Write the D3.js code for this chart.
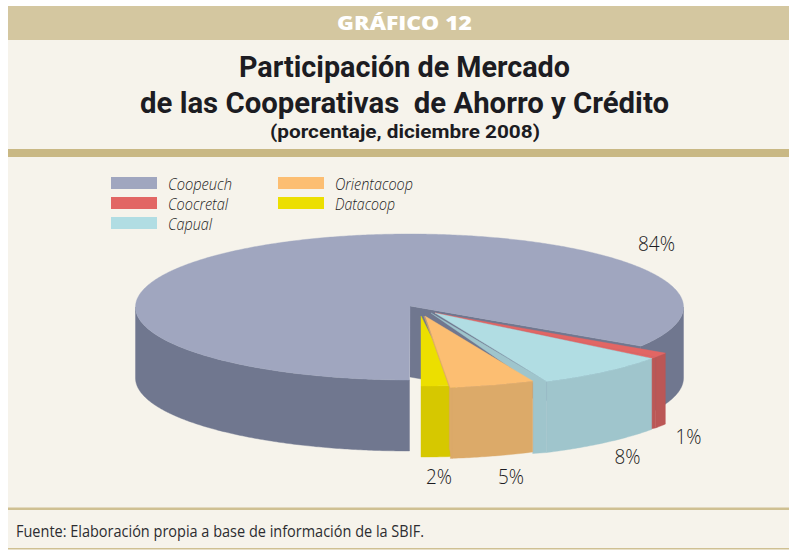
<!DOCTYPE html>
<html><head><meta charset="utf-8">
<script src="https://cdn.jsdelivr.net/npm/d3@7"></script>
<style>html,body{margin:0;padding:0;background:#fff}svg{display:block}text{font-family:"Open Sans",sans-serif}.h{font-family:Roboto,sans-serif}</style>
</head><body><svg id="c" width="789" height="550"></svg>
<script>
const categories = ["Coopeuch","Coocretal","Capual","Orientacoop","Datacoop"];
const values = [84,1,8,5,2];
const valueLabels = ["84%","1%","8%","5%","2%"];
const topColors = ["#a0a6bf","#e26664","#b1dde3","#fcbe72","#ecdf00"];
const wallColors = ["#70778f","#bb5756","#9fc5cc","#dcaa69","#d6c800"];

// layout
const W=789,H=550,RX=274,RY=73,DEPTH=71;
const centers=[[409.5,307],[434,314],[430,315.5],[416,315],[421,313]];
const apexes=[[410,306],[435,313],[435,313],[425,316],[421,316]];
const labelPos=[[656.5,251],[688.5,444],[627.5,464],[511,484],[439,484]];
const legendPos=[[111,177],[111,197],[111,217],[278,177],[278,197]];
const legendWidths=[64,60,44,78,60];

const svg=d3.select("#c");
svg.append("rect").attr("x",8).attr("y",6).attr("width",W-8).attr("height",543).attr("fill","#f6f3eb");
svg.append("rect").attr("x",8).attr("y",6).attr("width",W-8).attr("height",34).attr("fill","#d4c7a0");
svg.append("rect").attr("x",8).attr("y",149).attr("width",W-8).attr("height",8).attr("fill","#c9b884");
svg.append("rect").attr("x",8).attr("y",507.5).attr("width",W-8).attr("height",2.5).attr("fill","#cfc092");
svg.append("rect").attr("x",8).attr("y",548).attr("width",W-8).attr("height",1.5).attr("fill","#cfc092");

function fit(sel,len){return sel.attr("textLength",len).attr("lengthAdjust","spacingAndGlyphs");}
const t=(txt,x,y,size,weight,fill,len,cls)=>fit(svg.append("text").attr("class",cls||null).attr("x",x).attr("y",y)
  .attr("font-size",size).attr("font-weight",weight).attr("fill",fill)
  .style("white-space","pre").text(txt),len);

t("GRÁFICO 12",337,30,20,800,"#ffffff",135);
t("Participación de Mercado",239,77,29,700,"#1c1c22",331,"h");
t("de las Cooperativas  de Ahorro y Crédito",140,113,29,700,"#1c1c22",529,"h");
t("(porcentaje, diciembre 2008)",270,138,19,700,"#1c1c22",270,"h");
t("Fuente: Elaboración propia a base de información de la SBIF.",16,537,16,400,"#2c2c30",408);

const legend=svg.append("g").selectAll("g").data(categories).join("g")
  .attr("transform",(d,i)=>`translate(${legendPos[i]})`);
legend.append("rect").attr("width",46).attr("height",12).attr("fill",(d,i)=>topColors[i]);
legend.append("text").attr("x",57).attr("y",13).attr("font-size",16).attr("font-style","italic").attr("font-weight",300)
  .attr("fill","#1c1c22").text(d=>d).attr("textLength",(d,i)=>legendWidths[i]).attr("lengthAdjust","spacingAndGlyphs");

// pie geometry: starts at 6 o'clock, runs clockwise
const arcs=d3.pie().sort(null).startAngle(Math.PI).endAngle(3*Math.PI)(values);
const px=(c,a)=>c[0]+RX*Math.sin(a), py=(c,a)=>c[1]-RY*Math.cos(a);
const line=d3.line();
const samples=(a0,a1)=>{const n=Math.max(2,Math.ceil(Math.abs(a1-a0)/0.01));return d3.range(n+1).map(k=>a0+(a1-a0)*k/n);};
const arcPts=(c,a0,a1,dy=0)=>samples(a0,a1).map(a=>[px(c,a),py(c,a)+dy]);

function topPath(i){const d=arcs[i],c=centers[i];
  return line([apexes[i],...arcPts(c,d.startAngle,d.endAngle)])+"Z";}
function wallPaths(i){const d=arcs[i],c=centers[i],out=[];
  [[Math.PI/2,1.5*Math.PI],[2.5*Math.PI,3.5*Math.PI]].forEach(([lo,hi])=>{
    const a0=Math.max(lo,d.startAngle),a1=Math.min(hi,d.endAngle);
    if(a1>a0) out.push(line([...arcPts(c,a0,a1),...arcPts(c,a1,a0,DEPTH)])+"Z");
  });
  return out;}

const g=svg.append("g");
const draw=(p,f)=>g.append("path").attr("d",p).attr("fill",f).attr("stroke",f).attr("stroke-width",0.4);

wallPaths(0).forEach(p=>draw(p,wallColors[0]));
{const e=arcs[0].endAngle,c=centers[0],a=apexes[0];
 draw(line([a,[px(c,e),py(c,e)],[px(c,e),py(c,e)+DEPTH],[a[0],a[1]+DEPTH]])+"Z",wallColors[0]);}
draw(topPath(0),topColors[0]);

[1,2,4,3].forEach(i=>{
  const d=arcs[i],c=centers[i];
  const ex=px(c,d.endAngle),ey=py(c,d.endAngle);
  if(i===1){
    draw(line([[ex-5,ey+1],[ex,ey],[ex,ey+DEPTH],[ex-5,ey+DEPTH+1]])+"Z",wallColors[i]);
  }
  if(i===2){
    draw(line([[431,313],[ex-14,ey+1.5],[ex-14,ey+DEPTH+1],[ex,ey+DEPTH],[ex,ey]])+"Z",wallColors[i]);
  }
  wallPaths(i).forEach(p=>draw(p,wallColors[i]));
  if(i===3){
    draw(line([[apexes[i][0]-1,apexes[i][1]],[ex-1,ey],[ex-1,ey+DEPTH-10],[ex+2,ey+DEPTH],[ex+2,ey]])+"Z",wallColors[i]);
  }
  if(i===1){ // close the seam between Coocretal's top and Capual's top
    const c2=centers[2],s2=arcs[2].startAngle;
    draw(line([apexes[1],[ex,ey],[px(c2,s2),py(c2,s2)]])+"Z",topColors[1]);
  }
  draw(topPath(i),topColors[i]);
});

svg.append("g").selectAll("text").data(valueLabels).join("text")
  .attr("x",(d,i)=>labelPos[i][0]).attr("y",(d,i)=>labelPos[i][1])
  .attr("text-anchor","middle").attr("font-size",20.5).attr("font-weight",300).attr("fill","#1c1c22")
  .text(d=>d).attr("textLength",d=>d.length===3?37:26).attr("lengthAdjust","spacingAndGlyphs");
</script></body></html>
